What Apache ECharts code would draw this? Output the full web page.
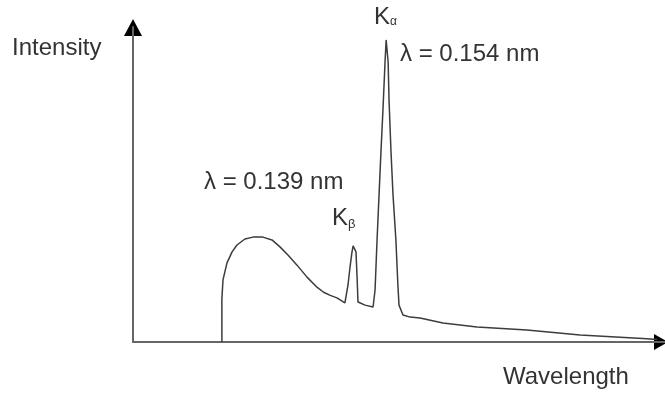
<!DOCTYPE html>
<html>
<head>
<meta charset="utf-8">
<script src="https://cdn.jsdelivr.net/npm/echarts@6/dist/echarts.min.js"></script>
<style>
  html, body { margin: 0; padding: 0; background: #fff; }
  #chart { width: 665px; height: 395px; }
</style>
</head>
<body>
<div id="chart"></div>
<script>
// wavelength (nm) and relative intensity
const wavelength = [
  0.0801, 0.0801, 0.0806, 0.0824, 0.0847, 0.0869, 0.0905, 0.0941, 0.0986, 0.1027,
  0.1063, 0.1099, 0.1140, 0.1185, 0.1230, 0.1260, 0.1290, 0.1320, 0.1356, 0.1365,
  0.1370, 0.1379, 0.1388, 0.1393, 0.1406, 0.1411, 0.1415, 0.1447, 0.1483, 0.1492,
  0.1501, 0.1510, 0.1519, 0.1528, 0.1537, 0.1542, 0.1551, 0.1555, 0.1564, 0.1573,
  0.1586, 0.1595, 0.1600, 0.1618, 0.1650, 0.1695, 0.1798, 0.1952, 0.2177, 0.2417,
  0.2719, 0.2764
];
const intensity = [
  0, 13.7, 19.7, 25.1, 28.6, 30.8, 32.7, 33.3, 33.3, 32.4,
  30.2, 27.6, 24.4, 20.6, 17.4, 15.8, 14.8, 14.0, 12.4, 12.7,
  18.1, 23.8, 28.6, 30.5, 28.6, 20.3, 12.7, 11.7, 11.1, 16.5,
  32.4, 46.7, 61.0, 74.3, 88.9, 95.9, 88.9, 76.8, 60.3, 46.7,
  32.4, 18.1, 11.7, 8.6, 7.9, 7.6, 6.0, 4.8, 3.8, 2.2,
  1.0, 0.8
];

const points = wavelength.map((w, i) => [w, intensity[i]]);

const font = 'Liberation Sans, Arial, sans-serif';
const txtColor = '#333';
const axisColor = '#666';

const chart = echarts.init(document.getElementById('chart'));

chart.setOption({
  animation: false,
  grid: { left: 133, right: 0, top: 27, bottom: 53 },
  xAxis: {
    type: 'value',
    min: 0.04,
    max: 0.28,
    axisLine: { show: true, lineStyle: { color: axisColor, width: 2 } },
    axisTick: { show: false },
    axisLabel: { show: false },
    splitLine: { show: false }
  },
  yAxis: {
    type: 'value',
    min: 0,
    max: 100,
    axisLine: { show: true, lineStyle: { color: axisColor, width: 2 } },
    axisTick: { show: false },
    axisLabel: { show: false },
    splitLine: { show: false }
  },
  series: [
    {
      type: 'line',
      data: points,
      showSymbol: false,
      smooth: false,
      lineStyle: { color: '#3c3c3c', width: 1.5 }
    }
  ],
  graphic: [
    // black arrowheads at the axis ends
    {
      type: 'polygon',
      shape: { points: [[133, 19], [124, 36], [142, 36]] },
      style: { fill: '#000' }
    },
    {
      type: 'polygon',
      shape: { points: [[654, 334], [654, 350], [668, 342]] },
      style: { fill: '#000' }
    },
    {
      type: 'text', x: 12, y: 48,
      style: { text: 'Intensity', font: '24px ' + font, fill: txtColor, verticalAlign: 'middle' }
    },
    {
      type: 'text', x: 503, y: 377,
      style: { text: 'Wavelength', font: '24px ' + font, fill: txtColor, verticalAlign: 'middle' }
    },
    {
      type: 'text', x: 400, y: 54,
      style: { text: 'λ = 0.154 nm', font: '24px ' + font, fill: txtColor, verticalAlign: 'middle' }
    },
    {
      type: 'text', x: 204, y: 182,
      style: { text: 'λ = 0.139 nm', font: '24px ' + font, fill: txtColor, verticalAlign: 'middle' }
    },
    {
      type: 'text', x: 374, y: 17,
      style: {
        text: '{k|K}{s|α}',
        verticalAlign: 'middle',
        rich: {
          k: { font: '24px ' + font, fill: txtColor },
          s: { font: '12px ' + font, fill: txtColor, padding: [10, 0, 0, 0] }
        }
      }
    },
    {
      type: 'text', x: 332, y: 218,
      style: {
        text: '{k|K}{s|β}',
        verticalAlign: 'middle',
        rich: {
          k: { font: '24px ' + font, fill: txtColor },
          s: { font: '13px ' + font, fill: txtColor, padding: [12, 0, 0, 0] }
        }
      }
    }
  ]
});
</script>
</body>
</html>
